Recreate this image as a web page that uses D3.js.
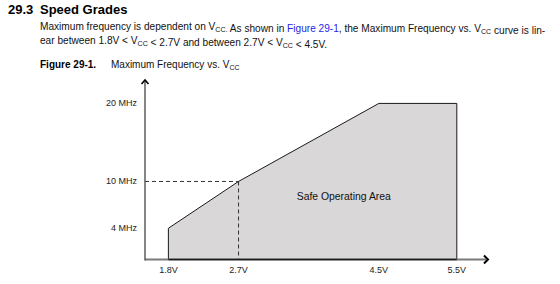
<!DOCTYPE html>
<html>
<head>
<meta charset="utf-8">
<script src="https://cdn.jsdelivr.net/npm/d3@7"></script>
<style>
  body { margin: 0; background: #fff; }
  svg { display: block; font-family: "Liberation Sans", Arial, sans-serif; }
</style>
</head>
<body>
<div id="chart"></div>
<script>
// voltage (V) vs max frequency (MHz), corners of the safe operating area
const voltages = [1.8, 1.8, 2.7, 4.5, 5.5, 5.5]
const frequencies = [0, 4, 10, 20, 20, 0]
const xTicks = [1.8, 2.7, 4.5, 5.5]
const yTicks = [4, 10, 20]
const xTickLabels = ['1.8V', '2.7V', '4.5V', '5.5V']
const yTickLabels = ['4 MHz', '10 MHz', '20 MHz']

const width = 560, height = 284
const svg = d3.select('#chart').append('svg').attr('width', width).attr('height', height)

// heading + paragraph
svg.append('text').attr('x', 8).attr('y', 14).attr('font-size', 13).attr('font-weight', 'bold').text('29.3')
svg.append('text').attr('x', 40).attr('y', 14).attr('font-size', 13).attr('font-weight', 'bold').text('Speed Grades')

function richLine(y, parts, size) {
  const t = svg.append('text').attr('x', 40).attr('y', y).attr('font-size', size).attr('fill', '#111')
  parts.forEach((p) => {
    if (p.sub) {
      t.append('tspan').attr('class', 'sub').attr('dy', 2).text(p.sub)
      t.append('tspan').attr('dy', -2).text('')
    } else {
      t.append('tspan').attr('fill', p.link ? '#1f1fe6' : null).text(p.t)
    }
  })
  t.selectAll('tspan.sub').attr('font-size', size * 0.7)
  return t
}

function makePara(size) {
  svg.selectAll('text.para').remove()
  const l1 = richLine(30, [
    { t: 'Maximum frequency is dependent on V' }, { sub: 'CC.' },
    { t: ' As shown in ' }, { t: 'Figure 29-1', link: true },
    { t: ', the Maximum Frequency vs. V' }, { sub: 'CC' }, { t: ' curve is lin-' }
  ], size).classed('para', true)
  richLine(44, [
    { t: 'ear between 1.8V < V' }, { sub: 'CC' }, { t: ' < 2.7V and between 2.7V < V' }, { sub: 'CC' }, { t: ' < 4.5V.' }
  ], size).classed('para', true)
  return l1.node().getComputedTextLength()
}
// first line runs from x=40 to about x=546 in the source
const len = makePara(11)
makePara(11 * 506 / len)

svg.append('text').attr('x', 40).attr('y', 68).attr('font-size', 10).attr('font-weight', 'bold').text('Figure 29-1.')
const cap = svg.append('text').attr('x', 111).attr('y', 68).attr('font-size', 10).attr('fill', '#111')
cap.append('tspan').text('Maximum Frequency vs. V')
cap.append('tspan').attr('font-size', 7).attr('dy', 2).text('CC')

// scales
const x = d3.scaleLinear().domain([1.5, 5.9]).range([145, 488])
const y = d3.scaleLinear().domain([0, 23]).range([259.5, 80])

const area = d3.line().x((d) => x(d[0])).y((d) => y(d[1]))
const pts = voltages.map((v, i) => [v, frequencies[i]])

svg.append('path')
  .attr('d', area(pts) + 'Z')
  .attr('fill', '#d9d7d8')
  .attr('stroke', '#1a1a1a')
  .attr('stroke-width', 1)

// dashed guides to the 2.7V / 10MHz corner
const g = svg.append('g').attr('stroke', '#333').attr('stroke-dasharray', '4,3').attr('stroke-width', 1)
g.append('line').attr('x1', x(1.5)).attr('x2', x(2.7)).attr('y1', y(10)).attr('y2', y(10))
g.append('line').attr('x1', x(2.7)).attr('x2', x(2.7)).attr('y1', y(10)).attr('y2', y(0))

// axes
svg.append('line').attr('x1', x(1.5)).attr('x2', x(5.9) - 2).attr('y1', y(0)).attr('y2', y(0))
  .attr('stroke', '#7a7a7a').attr('stroke-width', 2)
svg.append('line').attr('x1', x(1.8)).attr('x2', x(5.5)).attr('y1', y(0)).attr('y2', y(0))
  .attr('stroke', '#1a1a1a').attr('stroke-width', 1.5)
svg.append('line').attr('x1', x(1.5)).attr('x2', x(1.5)).attr('y1', y(0) + 1).attr('y2', y(23) + 1)
  .attr('stroke', '#444').attr('stroke-width', 1.3)

// arrow heads
svg.append('path')
  .attr('d', `M${x(5.9) - 4},${y(0) - 4}L${x(5.9)},${y(0)}L${x(5.9) - 4},${y(0) + 4}`)
  .attr('fill', 'none').attr('stroke', '#000').attr('stroke-width', 2)
svg.append('path')
  .attr('d', `M${x(1.5) - 3.5},${y(23) + 4}L${x(1.5)},${y(23)}L${x(1.5) + 3.5},${y(23) + 4}`)
  .attr('fill', 'none').attr('stroke', '#000').attr('stroke-width', 1.6)

// tick labels
svg.append('g').attr('font-size', 9).attr('fill', '#222').attr('text-anchor', 'middle')
  .selectAll('text').data(xTicks).join('text')
  .attr('x', (d) => x(d)).attr('y', 273)
  .text((d, i) => xTickLabels[i])

svg.append('g').attr('font-size', 9).attr('fill', '#222').attr('text-anchor', 'end')
  .selectAll('text').data(yTicks).join('text')
  .attr('x', 137).attr('y', (d) => y(d) + 3)
  .text((d, i) => yTickLabels[i])

svg.append('text').attr('x', x(4.05)).attr('y', 200).attr('text-anchor', 'middle')
  .attr('font-size', 10.4).attr('fill', '#111').text('Safe Operating Area')
</script>
</body>
</html>
